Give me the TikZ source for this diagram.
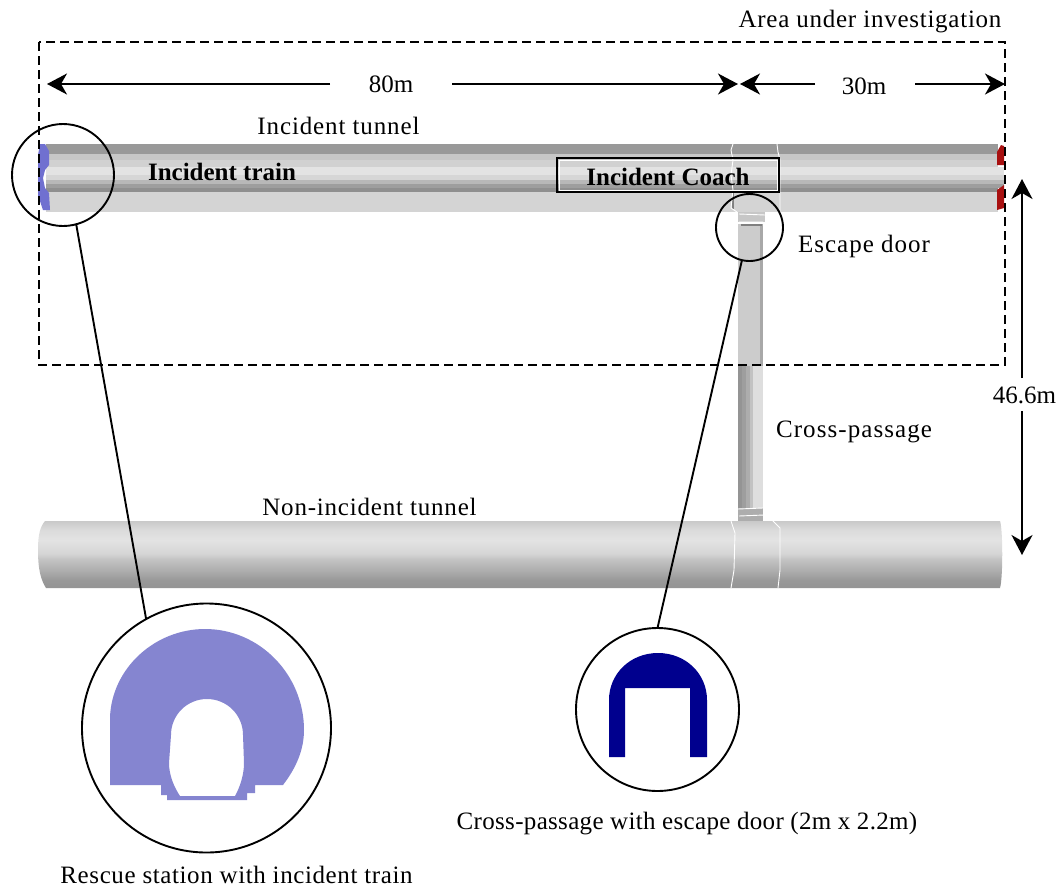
\documentclass[tikz,border=0pt]{standalone}
\usepackage{fontspec}
\setmainfont{Liberation Serif}
\usetikzlibrary{arrows.meta}
\definecolor{rescue}{HTML}{8585D0}
\definecolor{capblue}{HTML}{7070D0}
\definecolor{capred}{HTML}{A81010}
\definecolor{door}{HTML}{00008E}
\newcommand{\gr}[1]{\definecolor{cur}{gray}{#1}}
\newcommand{\ls}[2]{{\addfontfeature{LetterSpace=#1}#2}}
\pgfdeclareverticalshading{ntun}{100bp}{
  color(0bp)=(black!42); color(25bp)=(black!42); color(31bp)=(black!40);
  color(38bp)=(black!32); color(46bp)=(black!24); color(51bp)=(black!16);
  color(61bp)=(black!11); color(68bp)=(black!14); color(75bp)=(black!21); color(100bp)=(black!21)}
\tikzset{
  lbl/.style={font=\fontsize{25}{29}\selectfont,inner sep=0pt,outer sep=0pt,text=black},
  blbl/.style={lbl,font=\fontsize{25}{29}\selectfont\bfseries},
  dimone/.style={line width=1.8pt,-{Stealth[length=20pt,width=21pt,inset=6pt]}},
  lens/.style={circle,draw=black,line width=1.9pt,inner sep=0pt,outer sep=0pt},
  leader/.style={line width=1.9pt,black},
  seam/.style={draw=white,line width=0.9pt},
}
\begin{document}
\begin{tikzpicture}[x=1pt,y=-1pt]
\useasboundingbox (0,0) rectangle (1063,887);
\fill[white] (0,0) rectangle (1063,887);
% incident tunnel bands
\foreach \a/\b/\g in {144/154/.60,154/160/.78,160/167/.82,167/175/.89,175/180/.84,180/184/.72,184/188/.62,188/192/.56,192/212/.83}{
  \gr{\g}\fill[cur] (46,\a) rectangle (998,\b);
}
\foreach \a/\b/\g in {167/175/.89,175/180/.84,180/184/.72,184/188/.62}{
  \gr{\g}\fill[cur] (998,\a) rectangle (1004,\b);
}
% caps
\fill[capblue] (40,144) -- (45,144) -- (49,151) -- (49,165) -- (45,170) -- (43,178) -- (45,188) -- (49,193) -- (50,210) -- (43,210) -- (38,195) -- (38,155) -- cycle;
\fill[capred] (1001,145) -- (1004,146) -- (1004,165) -- (997,165) -- (997,152) -- cycle;
\fill[capred] (1004,185) -- (1004,208) -- (997,210) -- (997,190) -- cycle;
% upper cross passage
\fill[black!22] (738,212) rectangle (765,222);
\foreach \a/\b/\g in {738/760/.80,760/763/.66}{
  \gr{\g}\fill[cur] (\a,224) rectangle (\b,366);
}
\fill[black!50] (741,224) rectangle (762,226);
\foreach \a/\b/\g in {738/742/.58,742/746/.62,746/750/.68,750/753/.76,753/763/.87}{
  \gr{\g}\fill[cur] (\a,366) rectangle (\b,512);
}
% non-incident tunnel
\fill[black!32] (738,508) rectangle (763,522);
\shade[shading=ntun] (45,521) -- (1000,521) .. controls (1003,530) and (1003,578) .. (1000,588) -- (46,588) .. controls (41,580) and (38,570) .. (38,550) .. controls (38,535) and (40,527) .. (45,521) -- cycle;
% seams
\fill[black!50] (731.5,190) rectangle (733.5,209);
\draw[seam] (733,144) -- (731,150) -- (733,160) -- (731,175) -- (733,190) -- (731,208) -- (737,212);
\draw[seam] (777,144) -- (778,152) -- (780,160) -- (780,212) -- (772,214);
\draw[seam] (739,222) -- (763,222) (739,214) -- (765,215);
\draw[seam] (738,509) -- (763,508) (739,516) -- (764,515);
\draw[seam] (731,521) -- (735,533) -- (734,570) -- (731,588);
\draw[seam] (772,520) -- (780,528) -- (780,570) -- (778,588);
% incident coach frame
\draw[white,line width=1pt] (559,160) rectangle (777,190);
\node[draw=black,line width=2pt,minimum width=222pt,minimum height=34pt,inner sep=0pt,outer sep=0pt] (coach) at (668,175) {};
% labels
\node[blbl] (train) at (222,172) {Incident train};
\node[blbl] (coachlbl) at (668,177) {Incident Coach};
\node[lbl] (area) at (870,22) {\ls{3}{Area under investigation}};
\node[lbl] (tun1) at (338.5,126) {\ls{3.5}{Incident tunnel}};
\node[lbl] (esc) at (864,246) {\ls{4}{Escape door}};
\node[lbl] (cross) at (854,432) {\ls{4.3}{Cross-passage}};
\node[lbl] (tun2) at (369.5,507) {\ls{3.2}{Non-incident tunnel}};
\node[lbl] (caprt) at (687,824) {\ls{1.3}{Cross-passage with escape door (2m x 2.2m)}};
\node[lbl] (caplf) at (236.5,875) {\ls{2.4}{Rescue station with incident train}};
\node[lbl] (d80) at (391,84) {80m};
\node[lbl] (d30) at (864,86) {30m};
\node[lbl] (d46) at (1024.5,395) {46.6m};
% study area
\draw[black,line width=1.6pt,dash pattern=on 9pt off 5pt] (39,42) rectangle (1005,365);
% dimensions
\coordinate (l0) at (47,84); \coordinate (l1) at (330,84);
\coordinate (l2) at (452,84); \coordinate (l3) at (738,84);
\coordinate (r0) at (740,84); \coordinate (r1) at (815,84);
\coordinate (r2) at (915,84); \coordinate (r3) at (1005,84);
\coordinate (v0) at (1022,179); \coordinate (v1) at (1022,378);
\coordinate (v2) at (1022,411); \coordinate (v3) at (1022,555);
\draw[dimone] (l1) -- (l0);
\draw[dimone] (l2) -- (l3);
\draw[dimone] (r1) -- (r0);
\draw[dimone] (r2) -- (r3);
\draw[dimone] (v1) -- (v0);
\draw[dimone] (v2) -- (v3);
% enlarged sections
\fill[rescue,even odd rule]
  (110,785) -- (110,717) .. controls (112,668) and (155,629) .. (205,629)
  .. controls (260,629) and (304,675) .. (304,730)
  .. controls (304,750) and (296,768) .. (283,785)
  -- (255,785) -- (255,793) -- (247,793) -- (247,800) -- (167,800) -- (167,795) -- (161,795) -- (161,785) -- cycle
  (207,699) .. controls (187,699) and (171,715) .. (171,735) -- (169,763)
  .. controls (169,775) and (174,787) .. (180,796) -- (235,796)
  .. controls (240,787) and (244,775) .. (244,763) -- (243,735)
  .. controls (243,715) and (227,699) .. (207,699) -- cycle;
\fill[door] (609,757) -- (609,700) .. controls (609,674) and (630,653) .. (658,653)
  .. controls (686,653) and (707,674) .. (707,700) -- (707,757) -- (690,757) -- (690,688) -- (625,688) -- (625,757) -- cycle;
% lenses
\node[lens,minimum size=102pt] (lensA) at (63,175) {};
\node[lens,minimum size=67pt] (lensB) at (749.5,227.5) {};
\node[lens,minimum size=249pt] (bigA) at (206.5,728) {};
\node[lens,minimum size=163pt] (bigB) at (657.5,709.5) {};
\draw[leader] (lensA.-75) -- (bigA.119);
\draw[leader] (lensB.-103) -- (bigB.90);
\end{tikzpicture}
\end{document}
